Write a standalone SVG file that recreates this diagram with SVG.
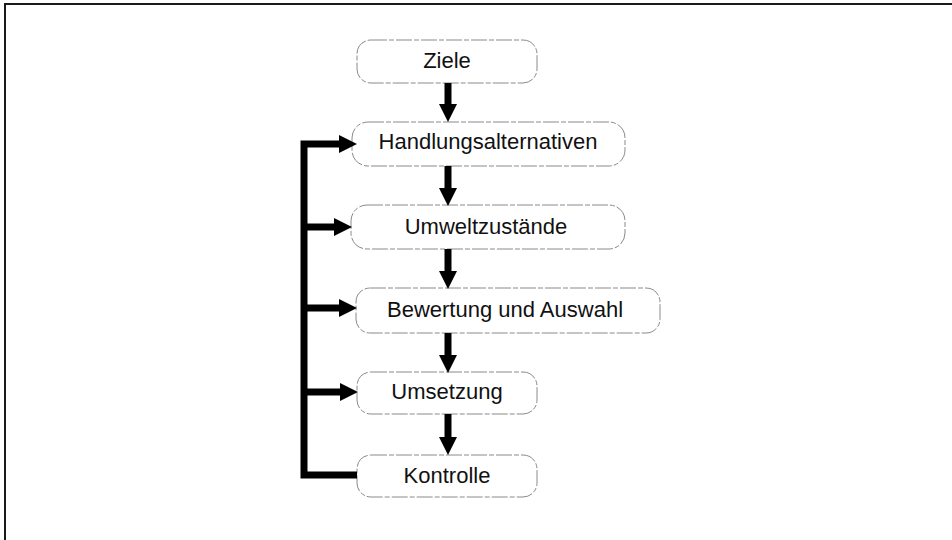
<svg xmlns="http://www.w3.org/2000/svg" width="952" height="540" viewBox="0 0 952 540">
  <style>
    .box { fill: #ffffff; stroke: #8a8a8a; stroke-width: 1; stroke-dasharray: 16 2 5 2; }
    .label { font-family: "Liberation Sans", Arial, Helvetica, sans-serif; font-size: 22px; fill: #111111; text-anchor: middle; }
    .flow { fill: none; stroke: #000000; stroke-width: 7; }
    .frame { fill: none; stroke: #1a1a1a; stroke-width: 2; }
  </style>
  <defs>
    <marker id="head" markerUnits="userSpaceOnUse" markerWidth="18" markerHeight="18" refX="0" refY="9" orient="auto">
      <path d="M0,0 L18,9 L0,18 Z" fill="#000000"/>
    </marker>
  </defs>

  <!-- page frame (top and left edges) -->
  <path class="frame" d="M952,4 H5 V540"/>

  <!-- process steps -->
  <g id="ziele">
    <rect class="box" x="357" y="40" width="180" height="43" rx="14"/>
    <text class="label" x="447" y="68">Ziele</text>
  </g>
  <g id="handlungsalternativen">
    <rect class="box" x="352" y="122" width="273" height="44" rx="16"/>
    <text class="label" x="488" y="149">Handlungsalternativen</text>
  </g>
  <g id="umweltzustaende">
    <rect class="box" x="351" y="205" width="274" height="44" rx="16"/>
    <text class="label" x="486" y="234">Umweltzustände</text>
  </g>
  <g id="bewertung">
    <rect class="box" x="356" y="288" width="304" height="45" rx="14"/>
    <text class="label" x="505" y="317">Bewertung und Auswahl</text>
  </g>
  <g id="umsetzung">
    <rect class="box" x="357" y="372" width="180" height="42" rx="14"/>
    <text class="label" x="447" y="399">Umsetzung</text>
  </g>
  <g id="kontrolle">
    <rect class="box" x="357" y="455" width="180" height="42" rx="14"/>
    <text class="label" x="447" y="483">Kontrolle</text>
  </g>

  <!-- connectors -->
  <g id="connectors">
    <!-- main sequence -->
    <line class="flow" x1="448" y1="83" x2="448" y2="104" marker-end="url(#head)"/>
    <line class="flow" x1="448" y1="166" x2="448" y2="188" marker-end="url(#head)"/>
    <line class="flow" x1="448" y1="249" x2="448" y2="271" marker-end="url(#head)"/>
    <line class="flow" x1="448" y1="333" x2="448" y2="355" marker-end="url(#head)"/>
    <line class="flow" x1="448" y1="414" x2="448" y2="437" marker-end="url(#head)"/>
    <!-- feedback loop from Kontrolle -->
    <path class="flow" d="M357,475 H304 V144 H339" stroke-linejoin="miter" marker-end="url(#head)"/>
    <line class="flow" x1="304" y1="227" x2="334" y2="227" marker-end="url(#head)"/>
    <line class="flow" x1="304" y1="308" x2="339" y2="308" marker-end="url(#head)"/>
    <line class="flow" x1="304" y1="392" x2="340" y2="392" marker-end="url(#head)"/>
  </g>
</svg>
